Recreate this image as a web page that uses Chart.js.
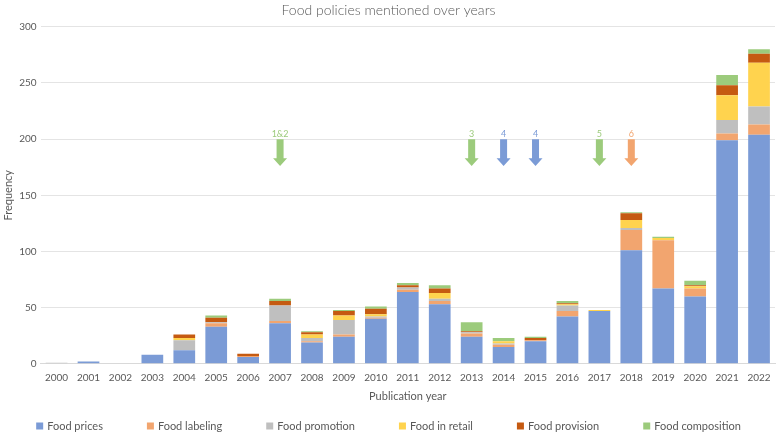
<!DOCTYPE html>
<html>
<head>
<meta charset="utf-8">
<script src="https://cdn.jsdelivr.net/npm/chart.js@4.4.0/dist/chart.umd.min.js"></script>
<style>
  body { margin: 0; background: #fff; }
  #wrap { width: 777px; height: 434px; }
</style>
</head>
<body>
<div id="wrap"><canvas id="myChart" width="777" height="434"></canvas></div>
<script>
// categories
var years = ["2000","2001","2002","2003","2004","2005","2006","2007","2008","2009","2010",
             "2011","2012","2013","2014","2015","2016","2017","2018","2019","2020","2021","2022"];

// series values
var foodPrices      = [0, 2, 0, 8, 12, 33, 6, 36, 19, 24, 40, 64, 53, 24, 15, 20, 42, 47, 101, 67, 60, 199, 204];
var foodLabeling    = [0, 0, 0, 0, 0, 3, 1, 2, 1, 2, 1, 2, 3, 3, 2, 1, 5, 0, 18, 43, 7, 6, 9];
var foodPromotion   = [1, 0, 0, 0, 9, 1, 0, 14, 3, 13, 1, 2, 2, 1, 1, 0, 5, 0, 2, 0, 0, 12, 16];
var foodRetail      = [0, 0, 0, 0, 2, 0, 0, 0, 3, 4, 2, 0, 5, 0, 2, 0, 1, 1, 7, 2, 2, 22, 39];
var foodProvision   = [0, 0, 0, 0, 3, 4, 2, 4, 2, 4, 5, 2, 4, 1, 0, 2, 1, 0, 6, 0, 1, 9, 8];
var foodComposition = [0, 0, 0, 0, 0, 2, 0, 2, 1, 1, 2, 2, 3, 8, 3, 1, 2, 0, 1, 1, 4, 9, 4];

// y tick labels
var yTicks = [0, 50, 100, 150, 200, 250, 300];

// arrow annotations
var arrowYears  = ["2007", "2013", "2014", "2015", "2017", "2018"];
var arrowLabels = ["1&2", "3", "4", "4", "5", "6"];
var arrowKinds  = ["green", "green", "blue", "blue", "green", "orange"];

var colors = {
    blue: "#7B9BD6",
    orange: "#F2A56F",
    grey: "#BFBFBF",
    yellow: "#FFD34E",
    brown: "#C55A11",
    green: "#9CCB7C"
};

var textColor = "#595959";
var fontFamily = "Lato, 'Open Sans', sans-serif";

function series(label, data, color){
    return {
        label: label,
        data: data,
        backgroundColor: color,
        borderWidth: 0,
        barPercentage: 0.68,
        categoryPercentage: 1.0
    };
}

// draws the numbered arrows above the bars
var arrowPlugin = {
    id: "arrows",
    afterDatasetsDraw: function(chart){
        var ctx = chart.ctx;
        var xs = chart.scales.x;
        var ys = chart.scales.y;
        for(var i = 0; i < arrowYears.length; i++){
            var cx = xs.getPixelForValue(years.indexOf(arrowYears[i]));
            var top = ys.getPixelForValue(200);
            var neck = ys.getPixelForValue(183);
            var tip = ys.getPixelForValue(176);
            ctx.save();
            ctx.fillStyle = colors[arrowKinds[i]];
            ctx.beginPath();
            ctx.moveTo(cx - 3.5, top);
            ctx.lineTo(cx + 3.5, top);
            ctx.lineTo(cx + 3.5, neck);
            ctx.lineTo(cx + 7, neck);
            ctx.lineTo(cx, tip);
            ctx.lineTo(cx - 7, neck);
            ctx.lineTo(cx - 3.5, neck);
            ctx.closePath();
            ctx.fill();
            ctx.font = "9px " + fontFamily;
            ctx.textAlign = "center";
            ctx.textBaseline = "bottom";
            ctx.fillText(arrowLabels[i], cx, top - 1);
            ctx.restore();
        }
    }
};

// legend in one row with wide gaps, like the original
var legendPlugin = {
    id: "wideLegend",
    afterDraw: function(chart){
        var ctx = chart.ctx;
        var sets = chart.data.datasets;
        var gap = 44, box = 7, space = 4;
        ctx.save();
        ctx.font = "11px " + fontFamily;
        var widths = sets.map(function(d){ return box + space + ctx.measureText(d.label).width; });
        var total = widths.reduce(function(a, b){ return a + b; }, 0) + gap * (sets.length - 1);
        var x = (chart.width - total) / 2;
        var y = chart.height - 8;
        ctx.textBaseline = "middle";
        ctx.textAlign = "left";
        for(var i = 0; i < sets.length; i++){
            ctx.fillStyle = sets[i].backgroundColor;
            ctx.fillRect(x, y - box / 2, box, box);
            ctx.fillStyle = textColor;
            ctx.fillText(sets[i].label, x + box + space, y);
            x += widths[i] + gap;
        }
        ctx.restore();
    }
};

var ctx = document.getElementById("myChart");
var myChart = new Chart(ctx, {
    type: "bar",
    data: {
        labels: years,
        datasets: [
            series("Food prices", foodPrices, colors.blue),
            series("Food labeling", foodLabeling, colors.orange),
            series("Food promotion", foodPromotion, colors.grey),
            series("Food in retail", foodRetail, colors.yellow),
            series("Food provision", foodProvision, colors.brown),
            series("Food composition", foodComposition, colors.green)
        ]
    },
    options: {
        responsive: false,
        animation: false,
        devicePixelRatio: 1,
        layout: { padding: { left: 2, right: 2, top: 0, bottom: 31 } },
        plugins: {
            title: {
                display: true,
                text: "Food policies mentioned over years",
                color: textColor,
                font: { family: fontFamily, size: 14, weight: "300" },
                padding: { top: 2, bottom: 8 }
            },
            legend: { display: false },
            tooltip: { enabled: false }
        },
        scales: {
            x: {
                stacked: true,
                grid: { display: false },
                border: { color: "#D9D9D9" },
                ticks: { color: textColor, font: { family: fontFamily, size: 10 }, maxRotation: 0, autoSkip: false, padding: 0 },
                title: {
                    display: true,
                    text: "Publication year",
                    color: textColor,
                    font: { family: fontFamily, size: 11 },
                    padding: { top: 6, bottom: 0 }
                }
            },
            y: {
                stacked: true,
                min: yTicks[0],
                max: yTicks[yTicks.length - 1],
                afterBuildTicks: function(axis){
                    axis.ticks = yTicks.map(function(v){ return { value: v }; });
                },
                grid: { color: "#E4E4E4", drawTicks: false },
                border: { display: false },
                ticks: { color: textColor, font: { family: fontFamily, size: 10 }, padding: 4 },
                title: {
                    display: true,
                    text: "Frequency",
                    color: textColor,
                    font: { family: fontFamily, size: 11 },
                    padding: { top: 0, bottom: 0 }
                }
            }
        }
    },
    plugins: [arrowPlugin, legendPlugin]
});
</script>
</body>
</html>
